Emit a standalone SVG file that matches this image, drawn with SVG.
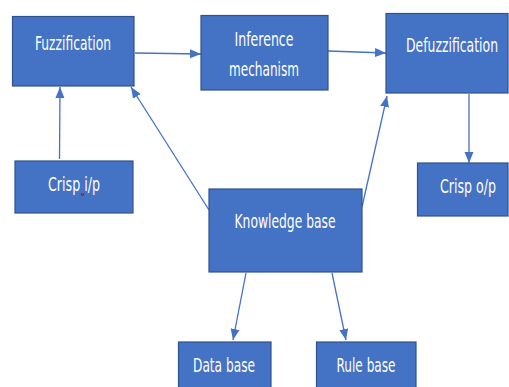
<svg xmlns="http://www.w3.org/2000/svg" width="509" height="387" viewBox="0 0 509 387">
<style>
.box{fill:#4472C4;stroke:#2F528F;stroke-width:1.2}
.lbl{fill:#ffffff;font-family:"Liberation Sans Narrow","DejaVu Sans Condensed","Liberation Sans",Arial,sans-serif;font-size:19px;text-anchor:middle}
.conn{stroke:#4472C4;stroke-width:1.3;fill:none;marker-end:url(#arr)}
</style>
<defs>
<marker id="arr" markerUnits="userSpaceOnUse" markerWidth="12" markerHeight="12" viewBox="0 0 12 12" refX="11" refY="6" orient="auto">
<path d="M0,1.5 L11,6 L0,10.5 Z" fill="#4472C4"/>
</marker>
</defs>
<rect width="509" height="387" fill="#ffffff"/>
<g id="connectors">
<line class="conn" x1="135" y1="53" x2="201" y2="54"/>
<line class="conn" x1="328" y1="51" x2="386" y2="53"/>
<line class="conn" x1="59.5" y1="159" x2="60" y2="87"/>
<line class="conn" x1="209" y1="210" x2="131" y2="87"/>
<line class="conn" x1="362" y1="207" x2="387" y2="96"/>
<line class="conn" x1="469" y1="94" x2="469" y2="163"/>
<line class="conn" x1="246" y1="273" x2="233" y2="340"/>
<line class="conn" x1="332" y1="273" x2="346" y2="340"/>
</g>
<g id="fuzzification">
<rect class="box" x="12.5" y="16.5" width="121.5" height="69.5"/>
<text class="lbl" x="73" y="50" textLength="76" lengthAdjust="spacingAndGlyphs">Fuzzification</text>
</g>
<g id="inference">
<rect class="box" x="201" y="15.5" width="127" height="74.5"/>
<text class="lbl" x="264" y="46" textLength="59" lengthAdjust="spacingAndGlyphs">Inference</text>
<text class="lbl" x="264" y="76" textLength="70" lengthAdjust="spacingAndGlyphs">mechanism</text>
</g>
<g id="defuzzification">
<rect class="box" x="386" y="13.5" width="122" height="79.5"/>
<text class="lbl" x="452" y="52" textLength="92" lengthAdjust="spacingAndGlyphs">Defuzzification</text>
</g>
<g id="crisp-ip">
<rect class="box" x="15" y="161" width="118" height="52"/>
<text class="lbl" x="74" y="191" textLength="52" lengthAdjust="spacingAndGlyphs">Crisp i/p</text>
<path d="M81,193.5 q1.5,3.5 3,0" stroke="#C00000" stroke-width="1.2" fill="none"/>
</g>
<g id="crisp-op">
<rect class="box" x="417.5" y="163" width="90.5" height="53"/>
<text class="lbl" x="468" y="193" textLength="56" lengthAdjust="spacingAndGlyphs">Crisp o/p</text>
</g>
<g id="knowledge-base">
<rect class="box" x="209" y="189" width="153" height="83"/>
<text class="lbl" x="285" y="228" textLength="101" lengthAdjust="spacingAndGlyphs">Knowledge base</text>
</g>
<g id="data-base">
<rect class="box" x="178.5" y="342" width="92.5" height="55"/>
<text class="lbl" x="224" y="372" textLength="62" lengthAdjust="spacingAndGlyphs">Data base</text>
</g>
<g id="rule-base">
<rect class="box" x="316.5" y="342" width="99.5" height="55"/>
<text class="lbl" x="366" y="372" textLength="59" lengthAdjust="spacingAndGlyphs">Rule base</text>
</g>
</svg>
